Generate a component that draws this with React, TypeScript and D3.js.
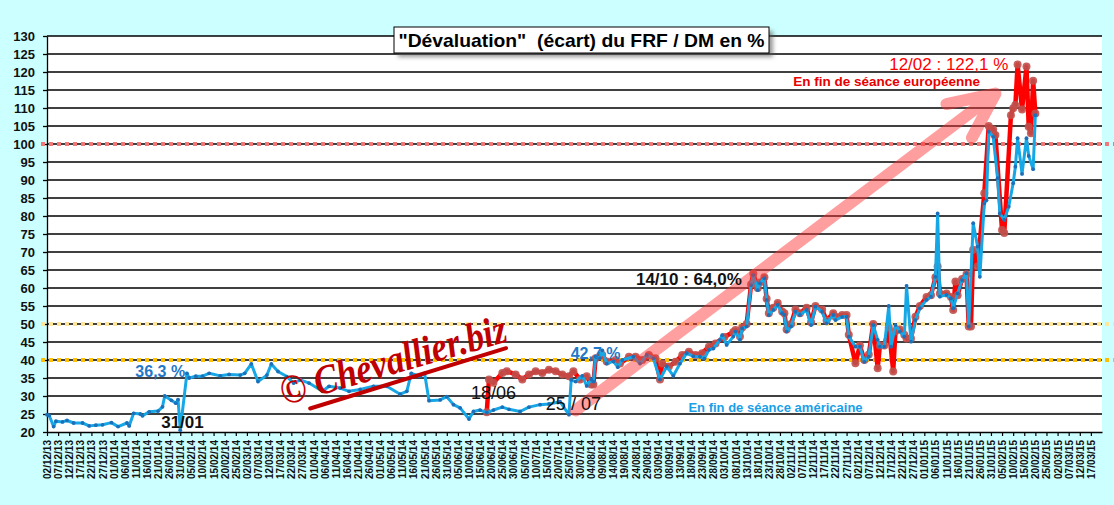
import React, { useEffect, useRef } from 'react';
import * as d3 from 'd3';

type Point = [string, number];

// "En fin de séance américaine" (blue)
const americanClose: Point[] = [
  ['2013-12-02', 24.8], ['2013-12-03', 24.6], ['2013-12-05', 21.5], ['2013-12-06', 23.0],
  ['2013-12-09', 22.8], ['2013-12-11', 23.2], ['2013-12-14', 22.5], ['2013-12-18', 22.5],
  ['2013-12-21', 21.7], ['2013-12-24', 21.9], ['2013-12-27', 22.0], ['2013-12-31', 22.6],
  ['2014-01-03', 21.5], ['2014-01-07', 22.5], ['2014-01-08', 21.7], ['2014-01-10', 25.2],
  ['2014-01-13', 25.0], ['2014-01-14', 24.5], ['2014-01-17', 25.6], ['2014-01-21', 25.8],
  ['2014-01-23', 27.0], ['2014-01-24', 30.0], ['2014-01-27', 28.8], ['2014-01-29', 28.0],
  ['2014-01-30', 29.0], ['2014-01-31', 20.5], ['2014-02-03', 36.3], ['2014-02-04', 35.0],
  ['2014-02-07', 35.5], ['2014-02-10', 35.5], ['2014-02-13', 36.3], ['2014-02-18', 35.6],
  ['2014-02-22', 36.0], ['2014-02-27', 35.8], ['2014-03-01', 36.3], ['2014-03-04', 38.9],
  ['2014-03-07', 34.0], ['2014-03-11', 35.8], ['2014-03-13', 38.9], ['2014-03-16', 36.8],
  ['2014-03-20', 35.4], ['2014-03-23', 33.6], ['2014-03-26', 34.5], ['2014-03-30', 33.6],
  ['2014-04-05', 31.3], ['2014-04-08', 32.7], ['2014-04-13', 32.2], ['2014-04-17', 31.3],
  ['2014-04-22', 31.8], ['2014-04-28', 32.7], ['2014-05-04', 32.7], ['2014-05-10', 30.5],
  ['2014-05-13', 31.3], ['2014-05-15', 36.3], ['2014-05-19', 35.5], ['2014-05-21', 36.3],
  ['2014-05-23', 28.7], ['2014-05-28', 28.9], ['2014-05-31', 29.8], ['2014-06-03', 27.6],
  ['2014-06-06', 26.7], ['2014-06-10', 23.6], ['2014-06-12', 25.7], ['2014-06-15', 26.1],
  ['2014-06-18', 25.4], ['2014-06-21', 26.1], ['2014-06-25', 26.9], ['2014-06-28', 26.3],
  ['2014-07-03', 25.7], ['2014-07-07', 26.9], ['2014-07-12', 27.6], ['2014-07-16', 27.8],
  ['2014-07-21', 28.4], ['2014-07-25', 24.8], ['2014-07-26', 34.5], ['2014-07-28', 34.0],
  ['2014-07-31', 35.6], ['2014-08-02', 32.8], ['2014-08-04', 34.6], ['2014-08-05', 34.0],
  ['2014-08-06', 41.0], ['2014-08-08', 40.5], ['2014-08-09', 42.7], ['2014-08-11', 39.0],
  ['2014-08-14', 39.6], ['2014-08-16', 38.0], ['2014-08-18', 40.0], ['2014-08-23', 40.9],
  ['2014-08-26', 39.0], ['2014-08-29', 41.4], ['2014-09-01', 40.5], ['2014-09-04', 34.6],
  ['2014-09-07', 38.2], ['2014-09-10', 35.6], ['2014-09-13', 39.0], ['2014-09-16', 41.9],
  ['2014-09-19', 41.0], ['2014-09-22', 40.9], ['2014-09-24', 40.4], ['2014-09-26', 42.8],
  ['2014-09-28', 43.2], ['2014-10-01', 45.6], ['2014-10-02', 46.9], ['2014-10-04', 44.2],
  ['2014-10-07', 46.5], ['2014-10-08', 47.9], ['2014-10-10', 45.6], ['2014-10-11', 48.8],
  ['2014-10-13', 49.3], ['2014-10-15', 60.8], ['2014-10-16', 63.6], ['2014-10-18', 59.4],
  ['2014-10-19', 61.3], ['2014-10-21', 62.7], ['2014-10-22', 56.7], ['2014-10-23', 52.5],
  ['2014-10-25', 53.9], ['2014-10-27', 55.3], ['2014-10-29', 53.0], ['2014-10-30', 52.5],
  ['2014-10-31', 47.9], ['2014-11-02', 49.3], ['2014-11-04', 53.4], ['2014-11-06', 52.5],
  ['2014-11-09', 53.9], ['2014-11-11', 49.7], ['2014-11-13', 54.8], ['2014-11-16', 53.4],
  ['2014-11-18', 50.2], ['2014-11-21', 52.5], ['2014-11-22', 51.1], ['2014-11-25', 52.0],
  ['2014-11-27', 52.0], ['2014-11-28', 46.5], ['2014-12-01', 43.7], ['2014-12-03', 43.7],
  ['2014-12-05', 39.5], ['2014-12-07', 40.9], ['2014-12-09', 49.7], ['2014-12-11', 45.6],
  ['2014-12-12', 43.7], ['2014-12-14', 43.7], ['2014-12-16', 55.0], ['2014-12-17', 43.7],
  ['2014-12-19', 49.7], ['2014-12-21', 47.9], ['2014-12-23', 46.5], ['2014-12-24', 60.6],
  ['2014-12-26', 45.1], ['2014-12-28', 51.1], ['2014-12-30', 54.4], ['2015-01-02', 56.7],
  ['2015-01-04', 57.6], ['2015-01-06', 63.1], ['2015-01-07', 80.7], ['2015-01-08', 57.6],
  ['2015-01-11', 58.1], ['2015-01-13', 57.1], ['2015-01-14', 54.4], ['2015-01-16', 58.5],
  ['2015-01-18', 62.2], ['2015-01-20', 64.1], ['2015-01-21', 49.3], ['2015-01-23', 78.0],
  ['2015-01-25', 71.5], ['2015-01-26', 63.1], ['2015-01-28', 83.5], ['2015-01-29', 84.4],
  ['2015-01-30', 103.4], ['2015-02-01', 102.0], ['2015-02-03', 90.5], ['2015-02-04', 80.7],
  ['2015-02-06', 78.9], ['2015-02-08', 82.6], ['2015-02-10', 89.1], ['2015-02-11', 93.7],
  ['2015-02-12', 101.6], ['2015-02-14', 91.7], ['2015-02-16', 101.6], ['2015-02-17', 96.7],
  ['2015-02-19', 93.0], ['2015-02-20', 108.0],
];

// "En fin de séance européenne" (red)
const europeanClose: Point[] = [
  ['2014-06-18', 25.5], ['2014-06-19', 34.6], ['2014-06-21', 33.7], ['2014-06-25', 36.4],
  ['2014-06-27', 36.9], ['2014-07-01', 36.0], ['2014-07-04', 34.6], ['2014-07-07', 36.0],
  ['2014-07-10', 36.9], ['2014-07-13', 36.4], ['2014-07-16', 37.3], ['2014-07-19', 36.9],
  ['2014-07-22', 36.0], ['2014-07-25', 35.5], ['2014-07-27', 36.9], ['2014-07-30', 34.6],
  ['2014-08-02', 35.5], ['2014-08-04', 33.2], ['2014-08-05', 33.2], ['2014-08-06', 40.5],
  ['2014-08-09', 41.4], ['2014-08-11', 39.6], ['2014-08-15', 40.0], ['2014-08-17', 39.0],
  ['2014-08-21', 40.9], ['2014-08-24', 40.9], ['2014-08-27', 40.0], ['2014-08-30', 41.4],
  ['2014-09-02', 40.5], ['2014-09-04', 34.6], ['2014-09-05', 39.0], ['2014-09-08', 38.2],
  ['2014-09-11', 39.5], ['2014-09-14', 41.4], ['2014-09-17', 42.3], ['2014-09-20', 41.4],
  ['2014-09-23', 41.9], ['2014-09-26', 43.7], ['2014-09-29', 44.6], ['2014-10-03', 46.4],
  ['2014-10-07', 47.8], ['2014-10-08', 48.3], ['2014-10-10', 46.5], ['2014-10-11', 49.0],
  ['2014-10-13', 50.0], ['2014-10-15', 61.0], ['2014-10-16', 64.0], ['2014-10-18', 60.0],
  ['2014-10-19', 61.5], ['2014-10-21', 63.0], ['2014-10-22', 57.0], ['2014-10-23', 53.0],
  ['2014-10-25', 54.5], ['2014-10-27', 55.8], ['2014-10-29', 53.5], ['2014-10-30', 53.0],
  ['2014-10-31', 48.5], ['2014-11-02', 50.0], ['2014-11-04', 54.0], ['2014-11-06', 53.0],
  ['2014-11-09', 54.5], ['2014-11-11', 50.5], ['2014-11-13', 55.0], ['2014-11-16', 54.0],
  ['2014-11-18', 51.0], ['2014-11-21', 53.0], ['2014-11-22', 52.0], ['2014-11-25', 52.5],
  ['2014-11-27', 52.5], ['2014-11-28', 47.0], ['2014-12-01', 39.1], ['2014-12-03', 44.0],
  ['2014-12-05', 40.0], ['2014-12-07', 41.5], ['2014-12-09', 50.0], ['2014-12-11', 37.7],
  ['2014-12-12', 44.0], ['2014-12-14', 44.0], ['2014-12-16', 49.0], ['2014-12-18', 36.8],
  ['2014-12-19', 48.0], ['2014-12-21', 48.5], ['2014-12-23', 47.0], ['2014-12-24', 46.0],
  ['2014-12-26', 46.0], ['2014-12-28', 52.0], ['2014-12-30', 55.0], ['2015-01-02', 57.5],
  ['2015-01-04', 58.0], ['2015-01-06', 63.0], ['2015-01-07', 66.0], ['2015-01-08', 58.5],
  ['2015-01-11', 58.5], ['2015-01-13', 57.5], ['2015-01-14', 53.9], ['2015-01-15', 61.8],
  ['2015-01-16', 58.0], ['2015-01-18', 62.5], ['2015-01-20', 63.8], ['2015-01-21', 49.3],
  ['2015-01-22', 49.3], ['2015-01-23', 70.6], ['2015-01-25', 66.0], ['2015-01-28', 86.3],
  ['2015-01-30', 105.0], ['2015-02-01', 104.0], ['2015-02-02', 102.5], ['2015-02-05', 76.1],
  ['2015-02-06', 75.3], ['2015-02-09', 108.0], ['2015-02-10', 109.9], ['2015-02-11', 110.8],
  ['2015-02-12', 122.1], ['2015-02-14', 109.6], ['2015-02-16', 121.5], ['2015-02-17', 104.8],
  ['2015-02-18', 103.0], ['2015-02-19', 117.6], ['2015-02-20', 108.5],
];

const yDomain = [20, 130];
const yTickValues = [20, 25, 30, 35, 40, 45, 50, 55, 60, 65, 70, 75, 80, 85, 90, 95, 100, 105, 110, 115, 120, 125, 130];
const xDomain = ['2013-12-02', '2015-03-22'];
const xTickFirst = '2013-12-02';
const xTickLast = '2015-03-17';
const xTickStepDays = 5;
const referenceLevels = [100, 50, 40];

const titleText = '"Dévaluation"  (écart) du FRF / DM en %';
const watermarkText = '© Chevallier.biz';
const watermarkAt: Point = ['2014-05-12', 37.8];
const arrowFrom: Point = ['2014-07-28', 26];
const arrowTo: Point = ['2015-02-02', 114];

const noteTexts = ['36,3 %', '31/01', '18/06', '25 / 07', '42,7 %', '14/10 : 64,0%', '12/02 : 122,1 %', 'En fin de séance européenne', 'En fin de séance américaine'];
const noteAnchors: Point[] = [
  ['2014-01-22', 36.7], ['2014-02-01', 22.8], ['2014-06-21', 30.8], ['2014-07-27', 28.0],
  ['2014-08-06', 41.7], ['2014-09-17', 62.5], ['2015-01-12', 122.2], ['2014-12-15', 117.5],
  ['2014-10-26', 26.9],
];
const noteKinds = ['blue', 'blackBold', 'black', 'black', 'blue', 'blackBold', 'red', 'redSmall', 'blueSmall'];

const parseDay = d3.timeParse('%Y-%m-%d');
const day = (s: string) => parseDay(s) as Date;

const App: React.FC = () => {
  const svgRef = useRef<SVGSVGElement | null>(null);

  useEffect(() => {
    document.body.style.margin = '0';
    if (!svgRef.current) return;

    const width = 1114;
    const height = 505;
    const plot = { left: 47, right: 1102, top: 36, bottom: 432 };
    const font = "'Liberation Sans', Arial, sans-serif";

    const svg = d3.select(svgRef.current)
      .attr('width', width)
      .attr('height', height)
      .html('');

    const x = d3.scaleTime()
      .domain(xDomain.map(day))
      .range([plot.left, plot.right]);
    const y = d3.scaleLinear()
      .domain(yDomain)
      .range([plot.bottom, plot.top]);

    const defs = svg.append('defs');
    defs.append('filter').attr('id', 'shadow').attr('x', '-10%').attr('y', '-30%').attr('width', '120%').attr('height', '180%')
      .append('feGaussianBlur').attr('stdDeviation', 2);

    // background + plot area
    svg.append('rect').attr('width', width).attr('height', height).attr('fill', '#ccffff');
    svg.append('rect')
      .attr('x', plot.left).attr('y', plot.top)
      .attr('width', plot.right - plot.left).attr('height', plot.bottom - plot.top)
      .attr('fill', '#ffffff');

    // horizontal grid
    svg.append('g')
      .selectAll('line')
      .data(yTickValues.filter(v => v > yDomain[0]))
      .enter()
      .append('line')
      .attr('x1', plot.left).attr('x2', plot.right)
      .attr('y1', d => y(d)).attr('y2', d => y(d))
      .attr('stroke', '#000').attr('stroke-width', 1.3);

    // y axis
    const gy = svg.append('g')
      .attr('transform', `translate(${plot.left},0)`)
      .call(d3.axisLeft(y).tickValues(yTickValues).tickSize(4).tickPadding(8).tickSizeOuter(0));
    gy.select('.domain').attr('stroke', '#000').attr('stroke-width', 1.3);
    gy.selectAll('.tick line').attr('stroke', '#000').attr('stroke-width', 1.3);
    gy.selectAll('text')
      .attr('font-family', font).attr('font-size', 13).attr('font-weight', 'bold').attr('fill', '#111');

    // x axis, one tick every 5 days
    const first = day(xTickFirst);
    const span = d3.timeDay.count(first, day(xTickLast));
    const tickDates = d3.range(0, span + 1, xTickStepDays).map(i => d3.timeDay.offset(first, i));
    const gx = svg.append('g')
      .attr('transform', `translate(0,${plot.bottom})`)
      .call(d3.axisBottom(x).tickValues(tickDates).tickSize(4).tickSizeOuter(0)
        .tickFormat(d => d3.timeFormat('%d/%m/%y')(d as Date)));
    gx.select('.domain').attr('stroke', '#000').attr('stroke-width', 1.3);
    gx.selectAll('.tick line').attr('stroke', '#000').attr('stroke-width', 1.2);
    gx.selectAll('text')
      .attr('transform', 'rotate(-90)')
      .attr('x', -8).attr('y', 0).attr('dy', '0.35em')
      .attr('text-anchor', 'end')
      .attr('font-family', font).attr('font-size', 10).attr('font-weight', 'bold').attr('fill', '#111');

    // dotted reference levels
    const refColor: { [k: number]: string } = { 100: '#f27878', 50: '#ffe699', 40: '#ffc000' };
    svg.append('g')
      .selectAll('line')
      .data(referenceLevels)
      .enter()
      .append('line')
      .attr('x1', plot.left - 6).attr('x2', width)
      .attr('y1', d => y(d)).attr('y2', d => y(d))
      .attr('stroke', d => refColor[d])
      .attr('stroke-width', 4)
      .attr('stroke-dasharray', '4,4');

    const line = d3.line<Point>()
      .x(d => x(day(d[0])))
      .y(d => y(d[1]))
      .curve(d3.curveLinear);

    // european close (red, big markers)
    svg.append('path')
      .datum(europeanClose)
      .attr('fill', 'none').attr('stroke', '#ff0000').attr('stroke-width', 4.5)
      .attr('stroke-linejoin', 'round').attr('stroke-linecap', 'round')
      .attr('d', line);
    svg.append('g')
      .selectAll('circle')
      .data(europeanClose)
      .enter()
      .append('circle')
      .attr('cx', d => x(day(d[0]))).attr('cy', d => y(d[1]))
      .attr('r', 4).attr('fill', '#c0504d').attr('opacity', 0.9);

    // american close (blue, small markers)
    svg.append('path')
      .datum(americanClose)
      .attr('fill', 'none').attr('stroke', '#16a8e6').attr('stroke-width', 3)
      .attr('stroke-linejoin', 'round').attr('stroke-linecap', 'round')
      .attr('d', line);
    svg.append('g')
      .selectAll('circle')
      .data(americanClose)
      .enter()
      .append('circle')
      .attr('cx', d => x(day(d[0]))).attr('cy', d => y(d[1]))
      .attr('r', 1.9).attr('fill', '#1c6fb8');

    // big trend arrow
    const p0 = [x(day(arrowFrom[0])), y(arrowFrom[1])];
    const p1 = [x(day(arrowTo[0])), y(arrowTo[1])];
    const ang = Math.atan2(p1[1] - p0[1], p1[0] - p0[0]);
    const headLen = 50;
    const spread = (25 * Math.PI) / 180;
    const w1 = [p1[0] - headLen * Math.cos(ang - spread), p1[1] - headLen * Math.sin(ang - spread)];
    const w2 = [p1[0] - headLen * Math.cos(ang + spread), p1[1] - headLen * Math.sin(ang + spread)];
    const arrow = svg.append('g').attr('opacity', 0.47);
    arrow.append('path')
      .attr('d', `M${p0[0]},${p0[1]}L${p1[0] - 6 * Math.cos(ang)},${p1[1] - 6 * Math.sin(ang)}`)
      .attr('stroke', '#ff3333').attr('stroke-width', 12).attr('stroke-linecap', 'round').attr('fill', 'none');
    arrow.append('path')
      .attr('d', `M${w1[0]},${w1[1]}L${p1[0]},${p1[1]}L${w2[0]},${w2[1]}`)
      .attr('stroke', '#ff3333').attr('stroke-width', 12).attr('stroke-linecap', 'round')
      .attr('stroke-linejoin', 'round').attr('fill', 'none');

    // watermark
    const wm = svg.append('g')
      .attr('transform', `translate(${x(day(watermarkAt[0]))},${y(watermarkAt[1])}) rotate(-16)`);
    wm.append('text')
      .attr('x', -126).attr('y', 3)
      .attr('textLength', 234).attr('lengthAdjust', 'spacingAndGlyphs')
      .attr('font-family', "'Liberation Serif', 'DejaVu Serif', serif")
      .attr('font-style', 'italic').attr('font-weight', 'bold')
      .attr('font-size', 41).attr('fill', '#c00000')
      .text(watermarkText);
    wm.append('path')
      .attr('d', 'M-102,13L103,9')
      .attr('stroke', '#c00000').attr('stroke-width', 4).attr('stroke-linecap', 'round');

    // annotations
    const noteStyle: { [k: string]: { size: number; weight: string; fill: string } } = {
      blue: { size: 16, weight: 'bold', fill: '#1f78c8' },
      blackBold: { size: 17, weight: 'bold', fill: '#111' },
      black: { size: 18, weight: 'normal', fill: '#111' },
      red: { size: 17, weight: 'normal', fill: '#ff0000' },
      redSmall: { size: 13.5, weight: 'bold', fill: '#e80000' },
      blueSmall: { size: 13, weight: 'bold', fill: '#18a0e8' },
    };
    noteTexts.forEach((t, i) => {
      const st = noteStyle[noteKinds[i]];
      svg.append('text')
        .attr('x', x(day(noteAnchors[i][0])))
        .attr('y', y(noteAnchors[i][1]))
        .attr('dy', '0.35em')
        .attr('text-anchor', 'middle')
        .attr('font-family', font)
        .attr('font-size', st.size)
        .attr('font-weight', st.weight)
        .attr('fill', st.fill)
        .style('white-space', 'pre')
        .text(t);
    });

    // title box with shadow
    const tb = { x: 394, y: 27, w: 375, h: 26 };
    svg.append('rect')
      .attr('x', tb.x + 4).attr('y', tb.y + 4).attr('width', tb.w).attr('height', tb.h)
      .attr('fill', '#555').attr('opacity', 0.6).attr('filter', 'url(#shadow)');
    svg.append('rect')
      .attr('x', tb.x).attr('y', tb.y).attr('width', tb.w).attr('height', tb.h)
      .attr('fill', '#fff').attr('stroke', '#000').attr('stroke-width', 1);
    svg.append('text')
      .attr('x', tb.x + tb.w / 2).attr('y', tb.y + tb.h / 2).attr('dy', '0.36em')
      .attr('text-anchor', 'middle')
      .attr('textLength', 366).attr('lengthAdjust', 'spacingAndGlyphs')
      .attr('font-family', font).attr('font-size', 19).attr('font-weight', 'bold').attr('fill', '#000')
      .style('white-space', 'pre')
      .text(titleText);
  }, []);

  return (
    <div style={{ width: 1114, height: 505, overflow: 'hidden' }}>
      <svg ref={svgRef} style={{ display: 'block' }}></svg>
    </div>
  );
};

export default App;
